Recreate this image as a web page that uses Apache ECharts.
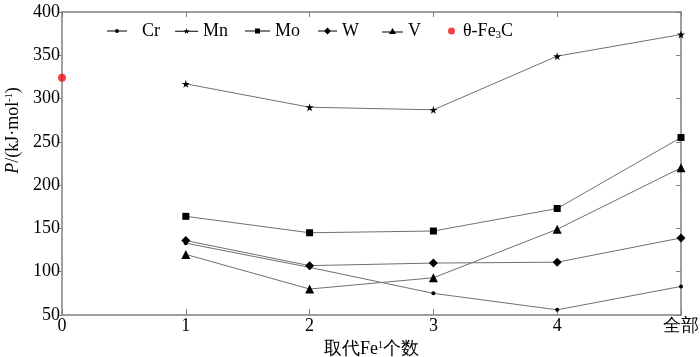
<!DOCTYPE html>
<html><head><meta charset="utf-8">
<script src="https://cdn.jsdelivr.net/npm/echarts@6/dist/echarts.min.js"></script>
<style>html,body{margin:0;padding:0;background:#fff}#c{width:700px;height:357px}</style>
</head><body><div id="c"></div>
<script>
const categories = ['0','1','2','3','4','全部'];
const cr = [null,133,105,75,56,83];
const mn = [null,317,290,287,349,374];
const mo = [null,164,145,147,173,255];
const w  = [null,136,107,110,111,139];
const v  = [null,120,80,93,149,220];
const fe3c = [324,null,null,null,null,null];
const yTicks = [50,100,150,200,250,300,350,400];

const FONT = 'Liberation Serif';
const RED = '#ee1111';
const STAR = 'path://M50,0 L61,35 L98,35 L68,57 L79,91 L50,70 L21,91 L32,57 L2,35 L39,35 Z';
const lineStyle = {color:'#707070', width:1};
const itemStyle = {color:'#000'};
function mk(name, data, symbol, size){
  return {name, type:'line', data, symbol, symbolSize:size, showSymbol:true,
    lineStyle, itemStyle, connectNulls:false, animation:false, z:3};
}
// legend icons (line + marker) drawn as filled paths
const ICONS = {
  Cr: {left:107, w:20, h:4, pad:10,
    path:'path://M0,1.5 L20,1.5 L20,2.5 L0,2.5 Z M8,2 A2,2 0 1,1 12,2 A2,2 0 1,1 8,2 Z'},
  Mn: {left:175, w:23, h:5.8, pad:0,
    path:'path://M0,2.7 L23,2.7 L23,3.7 L0,3.7 Z M11.5,0 L12.26,2.15 L14.54,2.21 L12.74,3.6 L13.38,5.8 L11.5,4.5 L9.62,5.8 L10.26,3.6 L8.46,2.21 L10.74,2.15 Z'},
  Mo: {left:245, w:25, h:5, pad:0,
    path:'path://M0,2 L25,2 L25,3 L0,3 Z M10,0 L15,0 L15,5 L10,5 Z'},
  W: {left:318, w:19, h:7, pad:0,
    path:'path://M0,3 L19,3 L19,4 L0,4 Z M9.5,0 L13,3.5 L9.5,7 L6,3.5 Z'},
  V: {left:382, w:21, h:6, pad:0,
    path:'path://M0,3.5 L21,3.5 L21,4.5 L0,4.5 Z M10.5,0 L14,6 L7,6 Z'},
  'θ-Fe3C': {left:448, w:7, h:7, pad:3, path:'circle'}
};
const legendText = {fontFamily:FONT, fontSize:18, color:'#000', lineHeight:20,
  rich:{n:{fontFamily:FONT, fontSize:18, color:'#000'},
        sub:{fontFamily:FONT, fontSize:11, color:'#000', padding:[9,0,0,0]}}};
const legends = Object.keys(ICONS).map(function(k){
  const ic = ICONS[k];
  const ts = Object.assign({}, legendText, {padding:[0,0,0,ic.pad]});
  return {
    left: ic.left, top:21, itemWidth:ic.w, itemHeight:ic.h,
    padding:0, textStyle: ts, selectedMode:false,
    formatter: function(n){ return n==='θ-Fe3C' ? '{n|θ-Fe}{sub|3}{n|C}' : n; },
    data:[{name:k, icon:ic.path, itemStyle:{color: k==='θ-Fe3C'?RED:'#000', borderWidth:0}}]
  };
});

const chart = echarts.init(document.getElementById('c'), null, {renderer:'canvas'});
const axisCommon = {
  axisLine:{show:true, lineStyle:{color:'#808080', width:1.5}},
  splitLine:{show:false}
};
chart.setOption({
  animation:false,
  backgroundColor:'#fff',
  grid:{left:62, right:19, top:12, bottom:42, containLabel:false, outerBoundsMode:'none'},
  legend: legends,
  xAxis:[{
    type:'category', data:categories, boundaryGap:false, position:'bottom',
    ...axisCommon,
    axisTick:{show:true, inside:true, length:6, lineStyle:{color:'#808080'}},
    axisLabel:{fontFamily:FONT, fontSize:18, color:'#000', margin:2},
    name:'{a|取代Fe}{s|1}{a|个数}', nameLocation:'middle', nameGap:21,
    nameTextStyle:{rich:{a:{fontFamily:FONT, fontSize:18, color:'#000'}, s:{fontFamily:FONT, fontSize:10, color:'#000', padding:[0,0,8,0]}}}
  },{
    type:'category', data:categories, boundaryGap:false, position:'top',
    ...axisCommon,
    axisTick:{show:true, inside:true, length:5, lineStyle:{color:'#808080'}},
    axisLabel:{show:false}
  }],
  yAxis:[{
    type:'value', min:50, max:400, interval:50, position:'left',
    ...axisCommon,
    axisTick:{show:true, inside:false, length:3, lineStyle:{color:'#808080'}},
    axisLabel:{fontFamily:FONT, fontSize:18, color:'#000', margin:2,
      formatter: function(val){ return yTicks.indexOf(val)>=0 ? String(val) : ''; }},
    name:'{i|P}{a|/(kJ·mol}{s|-1}{a|)}', nameLocation:'middle', nameGap:39, nameRotate:90,
    nameTextStyle:{padding:[0,0,0,66],
      rich:{i:{fontFamily:FONT, fontSize:18, fontStyle:'italic', color:'#000'}, a:{fontFamily:FONT, fontSize:18, color:'#000'}, s:{fontFamily:FONT, fontSize:10, color:'#000', padding:[0,0,8,0]}}}
  },{
    type:'value', min:50, max:400, interval:50, position:'right',
    ...axisCommon,
    axisTick:{show:true, inside:true, length:5, lineStyle:{color:'#808080'}},
    axisLabel:{show:false}
  }],
  series:[
    mk('Cr', cr, 'circle', 4),
    mk('Mn', mn, STAR, 8),
    mk('Mo', mo, 'rect', 7),
    mk('W', w, 'diamond', 9),
    mk('V', v, 'triangle', 9),
    {name:'θ-Fe3C', type:'scatter', data:fe3c, symbol:'circle', symbolSize:8,
      itemStyle:{color:RED}, z:5, clip:false}
  ]
});
</script></body></html>
